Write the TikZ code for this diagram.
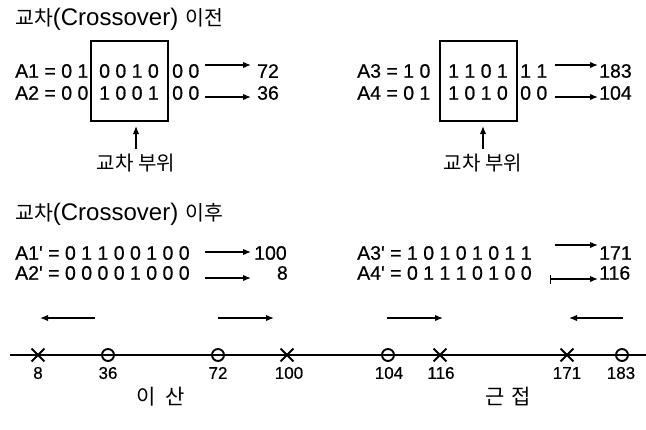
\documentclass[tikz,border=0pt]{standalone}
\usepackage{fontspec}
\setmainfont{Liberation Sans}
\newfontfamily\rowf{Liberation Sans}[FakeBold=0.6]
\newfontfamily\kr{Noto Sans CJK KR}
\usetikzlibrary{arrows.meta,shapes.misc}
\newcommand{\krt}[1]{{\fontsize{20.5}{20.5}\selectfont\kr #1}}
\begin{document}
\begin{tikzpicture}[x=1pt,y=-1pt,
  txt/.style={font=\fontsize{19.5}{19.5}\selectfont\rowf, inner sep=0pt},
  ttl/.style={font=\fontsize{24}{24}\selectfont, inner sep=0pt, anchor=west},
  lbl/.style={font=\fontsize{17}{17}\selectfont\rowf, inner sep=0pt},
  krl/.style={font=\fontsize{20}{20}\selectfont\kr, inner sep=0pt},
  krb/.style={font=\fontsize{21}{21}\selectfont\kr, inner sep=0pt},
  arr/.style={-{Latex[length=8pt,width=6.5pt]}, line width=1.4pt},
  cbox/.style={draw, line width=1.5pt, minimum width=77pt, minimum height=80pt, inner sep=0pt},
  xmk/.style={draw, cross out, line width=1.9pt, minimum size=11pt, inner sep=0pt},
  omk/.style={draw, circle, line width=1.9pt, minimum size=12pt, inner sep=0pt}]
\useasboundingbox (0,0) rectangle (646,429);

% ---- before crossover
\node[ttl] (t1) at (15,19) {\krt{교차}(Crossover)\hspace{0.3em}\krt{이전}};

\node[cbox] (box1) at (129.5,81) {};
\node[txt,anchor=west] (a1l) at (15,71) {A1 = 0 1};
\node[txt] (a1m) at (129,71) {0 0 1 0};
\node[txt,anchor=west] (a1r) at (172,71) {0 0};
\node[txt,anchor=west] (a2l) at (15,93) {A2 = 0 0};
\node[txt] (a2m) at (129,93) {1 0 0 1};
\node[txt,anchor=west] (a2r) at (172,93) {0 0};
\node[txt,anchor=west] (v72) at (257,71) {72};
\node[txt,anchor=west] (v36) at (257,93) {36};
\coordinate (p1s) at (205,65); \coordinate (p1e) at (251,65);
\coordinate (p2s) at (205,97); \coordinate (p2e) at (251,97);
\draw[arr] (p1s) -- (p1e);
\draw[arr] (p2s) -- (p2e);
\node[krl] (cx1) at (136,163) {교차 부위};
\coordinate (u1s) at (136,149); \coordinate (u1e) at (136,126);
\draw[arr] (u1s) -- (u1e);

\node[cbox] (box2) at (478.5,81) {};
\node[txt,anchor=west] (a3l) at (357,71) {A3 = 1 0};
\node[txt] (a3m) at (478,71) {1 1 0 1};
\node[txt,anchor=west] (a3r) at (520,71) {1 1};
\node[txt,anchor=west] (a4l) at (357,93) {A4 = 0 1};
\node[txt] (a4m) at (478,93) {1 0 1 0};
\node[txt,anchor=west] (a4r) at (520,93) {0 0};
\node[txt,anchor=west] (v183) at (599,71) {183};
\node[txt,anchor=west] (v104) at (599,93) {104};
\coordinate (p3s) at (555,65); \coordinate (p3e) at (598,65);
\coordinate (p4s) at (555,97); \coordinate (p4e) at (598,97);
\draw[arr] (p3s) -- (p3e);
\draw[arr] (p4s) -- (p4e);
\node[krl] (cx2) at (483,163) {교차 부위};
\coordinate (u2s) at (483,149); \coordinate (u2e) at (483,126);
\draw[arr] (u2s) -- (u2e);

% ---- after crossover
\node[ttl] (t2) at (15,214) {\krt{교차}(Crossover)\hspace{0.3em}\krt{이후}};

\node[txt,anchor=west] (b1) at (15,253) {A1' = 0 1 1 0 0 1 0 0};
\node[txt,anchor=west] (b2) at (15,273) {A2' = 0 0 0 0 1 0 0 0};
\node[txt,anchor=west] (v100) at (254,253) {100};
\node[txt,anchor=east] (v8) at (288,273) {8};
\coordinate (q1s) at (205,252); \coordinate (q1e) at (251,252);
\coordinate (q2s) at (205,278); \coordinate (q2e) at (251,278);
\draw[arr] (q1s) -- (q1e);
\draw[arr] (q2s) -- (q2e);

\node[txt,anchor=west] (b3) at (357,253) {A3' = 1 0 1 0 1 0 1 1};
\node[txt,anchor=west] (b4) at (357,273) {A4' = 0 1 1 1 0 1 0 0};
\node[txt,anchor=west] (v171) at (599,253) {171};
\node[txt,anchor=west] (v116) at (599,273) {116};
\coordinate (q3s) at (555,245); \coordinate (q3e) at (598,245);
\coordinate (q4s) at (550,279); \coordinate (q4e) at (598,279);
\draw[arr] (q3s) -- (q3e);
\draw[arr,{Bar[width=9pt]}-{Latex[length=8pt,width=6.5pt]}] (q4s) -- (q4e);

% ---- direction arrows
\coordinate (d1s) at (95,318);  \coordinate (d1e) at (40,318);
\coordinate (d2s) at (218,318); \coordinate (d2e) at (274,318);
\coordinate (d3s) at (387,318); \coordinate (d3e) at (443,318);
\coordinate (d4s) at (623,318); \coordinate (d4e) at (569,318);
\draw[arr] (d1s) -- (d1e);
\draw[arr] (d2s) -- (d2e);
\draw[arr] (d3s) -- (d3e);
\draw[arr] (d4s) -- (d4e);

% ---- number line
\coordinate (l0) at (10,355); \coordinate (l1) at (646,355);
\draw[line width=2.4pt] (l0) -- (l1);
\node[xmk] (m8) at (38,355) {};
\node[omk] (m36) at (108,355) {};
\node[omk] (m72) at (218,355) {};
\node[xmk] (m100) at (287,355) {};
\node[omk] (m104) at (388,355) {};
\node[xmk] (m116) at (440,355) {};
\node[xmk] (m171) at (567,355) {};
\node[omk] (m183) at (622,355) {};
\node[lbl] (n8) at (38,373) {8};
\node[lbl] (n36) at (108,373) {36};
\node[lbl] (n72) at (218,373) {72};
\node[lbl] (n100) at (289,373) {100};
\node[lbl] (n104) at (389,373) {104};
\node[lbl] (n116) at (441,373) {116};
\node[lbl] (n171) at (567,373) {171};
\node[lbl] (n183) at (621,373) {183};

\node[krb] (div) at (161,397) {이\hspace{0.45em}산};
\node[krb] (conv) at (508,397) {근\hspace{0.3em}접};
\end{tikzpicture}
\end{document}
